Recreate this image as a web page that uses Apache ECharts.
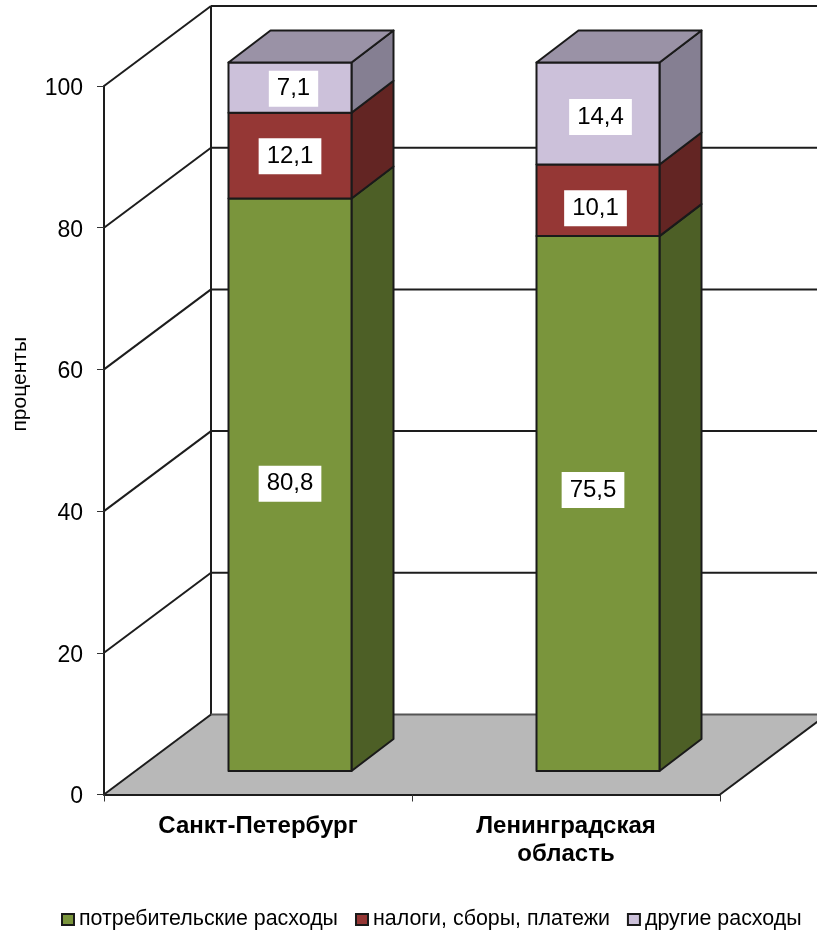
<!DOCTYPE html>
<html><head><meta charset="utf-8">
<style>html,body{margin:0;padding:0;background:#fff}#c{width:817px;height:933px}</style>
<script src="https://cdn.jsdelivr.net/npm/echarts@6/dist/echarts.min.js"></script>
</head><body><div id="c"></div>
<script>
const categories = ['Санкт-Петербург', 'Ленинградская\nобласть'];
const consumer = [80.8, 75.5];
const taxes = [12.1, 10.1];
const other = [7.1, 14.4];
const seriesNames = ['потребительские расходы', 'налоги, сборы, платежи', 'другие расходы'];
const yTicks = [0, 20, 40, 60, 80, 100];

const FONT = '"Liberation Sans", Arial, sans-serif';
const INK = '#1d1d1d';
const WALL = [107, -80];       // depth of the chart box
const BAR_SHIFT = [32, -23.5]; // bar front plane relative to axis plane
const BAR_DEPTH = [42, -32];
const BAR_W = 123;
// hand-placed labels in the original: nudge [dx, dy] per series, per category
const LABEL_NUDGE = [
  [[0, -1], [-5, -13.5]],
  [[0, 0.5], [-2.5, 8]],
  [[3.5, 1], [2.5, 3.5]]
];

const chart = echarts.init(document.getElementById('c'), null, {renderer: 'canvas'});
const fmt = v => v.toFixed(1).replace('.', ',');

function renderWall(params, api) {
  const v = api.value(0);
  const p = api.coord([0, v]);
  const rect = params.coordSys;
  const x0 = rect.x, xr = rect.x + rect.width, y = p[1];
  const lineStyle = {stroke: INK, lineWidth: 2, fill: null};
  const children = [];
  if (v === 0) {
    const top = api.coord([0, 100])[1];
    children.push({type: 'polygon', shape: {points: [[x0, y], [x0 + WALL[0], y + WALL[1]], [xr + WALL[0], y + WALL[1]], [xr, y]]},
      style: {fill: '#b8b8b8'}});
    children.push({type: 'line', shape: {x1: xr, y1: y, x2: xr + WALL[0], y2: y + WALL[1]}, style: lineStyle});
    children.push({type: 'line', shape: {x1: x0 + WALL[0], y1: y + WALL[1], x2: x0 + WALL[0], y2: top + WALL[1]}, style: lineStyle});
  }
  children.push({type: 'line', shape: {x1: x0, y1: y, x2: x0 + WALL[0], y2: y + WALL[1]}, style: lineStyle});
  children.push({type: 'line', shape: {x1: x0 + WALL[0], y1: y + WALL[1], x2: xr + WALL[0], y2: y + WALL[1]},
    style: Object.assign({}, lineStyle, v === 0 ? {stroke: '#555'} : {})});
  return {type: 'group', children};
}

function makeBar(seriesIdx, sideColor, topColor) {
  return function (params, api) {
    const cat = api.value(0), lo = api.value(1), hi = api.value(2), val = api.value(3);
    const a = api.coord([cat, lo]), b = api.coord([cat, hi]);
    const xl = a[0] + BAR_SHIFT[0] - BAR_W / 2, xr = xl + BAR_W;
    const yb = a[1] + BAR_SHIFT[1], yt = b[1] + BAR_SHIFT[1];
    const dx = BAR_DEPTH[0], dy = BAR_DEPTH[1];
    const edge = {stroke: '#1a1a1a', lineWidth: 2, lineJoin: 'round'};
    const nudge = LABEL_NUDGE[seriesIdx][cat];
    const children = [
      {type: 'polygon', shape: {points: [[xr, yb], [xr + dx, yb + dy], [xr + dx, yt + dy], [xr, yt]]},
        style: Object.assign({fill: sideColor}, edge)},
      {type: 'rect', shape: {x: xl, y: yt, width: BAR_W, height: yb - yt},
        style: Object.assign({fill: api.visual('color')}, edge)}
    ];
    if (topColor) {
      children.push({type: 'polygon', shape: {points: [[xl, yt], [xl + dx, yt + dy], [xr + dx, yt + dy], [xr, yt]]},
        style: Object.assign({fill: topColor}, edge)});
    }
    children.push({type: 'text', z2: 50, style: {
      text: fmt(val), x: (xl + xr) / 2 + nudge[0], y: (yt + yb) / 2 + nudge[1], align: 'center', verticalAlign: 'middle',
      fill: '#000', font: '24px ' + FONT, backgroundColor: '#fff', padding: [6, 8, 6, 8]
    }});
    return {type: 'group', children};
  };
}

const stacks = [consumer, taxes, other];
const colors = ['#7a953c', '#953735', '#ccc1da'];
const sides = ['#4d5f26', '#632523', '#857f92'];
const tops = [null, null, '#9a92a6'];

const barSeries = stacks.map((vals, s) => ({
  type: 'custom',
  name: seriesNames[s],
  coordinateSystem: 'cartesian2d',
  clip: false,
  z: 3 + s,
  itemStyle: {color: colors[s]},
  encode: {x: 0, y: 2},
  renderItem: makeBar(s, sides[s], tops[s]),
  data: vals.map((v, c) => {
    let lo = 0;
    for (let k = 0; k < s; k++) lo += stacks[k][c];
    return [c, lo, lo + v, v];
  })
}));

chart.setOption({
  animation: false,
  backgroundColor: '#fff',
  grid: {left: 104, top: 86, width: 616, height: 708.5, containLabel: false},
  legend: {
    left: 56, top: 904, itemWidth: 12, itemHeight: 11, itemGap: 17, icon: 'rect',
    data: seriesNames,
    itemStyle: {borderColor: '#1a1a1a', borderWidth: 2},
    textStyle: {fontFamily: FONT, fontSize: 21.4, color: '#000'},
    selectedMode: false
  },
  xAxis: {
    type: 'category', data: categories, z: 10,
    axisLine: {lineStyle: {color: INK, width: 2}},
    axisTick: {show: true, length: 7, alignWithLabel: false, lineStyle: {color: '#333', width: 1}},
    axisLabel: {fontFamily: FONT, fontSize: 24, fontWeight: 'bold', color: '#000', margin: 18, lineHeight: 28, interval: 0},
    splitLine: {show: false}
  },
  yAxis: {
    type: 'value', min: 0, max: 100, interval: 20, z: 10,
    name: 'проценты', nameLocation: 'middle', nameGap: 73, nameRotate: 90,
    nameTextStyle: {fontFamily: FONT, fontSize: 21, color: '#000', padding: [0, 0, 0, 112]},
    axisLine: {show: true, lineStyle: {color: INK, width: 2}},
    axisTick: {show: true, length: 7, lineStyle: {color: '#333', width: 1}},
    axisLabel: {
      margin: 21, formatter: '{t|{value}}',
      rich: {t: {fontFamily: FONT, fontSize: 23, color: '#000', padding: [5, 0, 0, 0]}}
    },
    splitLine: {show: false}
  },
  series: [{
    type: 'custom', name: 'стенки', coordinateSystem: 'cartesian2d', clip: false, silent: true, z: 1,
    encode: {y: 0}, renderItem: renderWall, data: yTicks.map(v => [v])
  }].concat(barSeries)
});
</script></body></html>
